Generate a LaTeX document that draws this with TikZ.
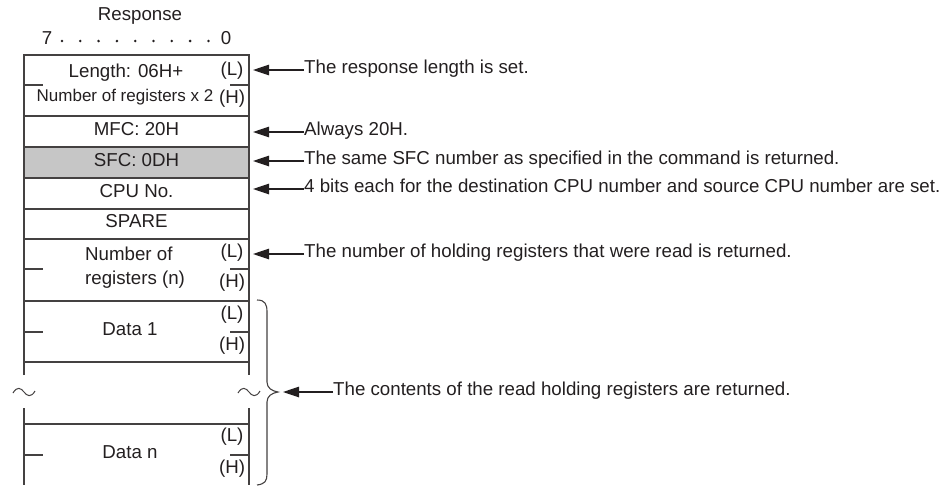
\documentclass[tikz,border=0pt]{standalone}
\usepackage{fontspec}
\setmainfont{Liberation Sans}
\usetikzlibrary{arrows.meta}
\definecolor{ink}{HTML}{231F20}
\definecolor{boxgray}{HTML}{C6C6C6}
\tikzset{
  boxline/.style={draw=ink!85, line width=1.3pt},
  lbl/.style={inner sep=0pt, text height=0.716em, text depth=0pt, text=ink, font=\fontsize{18.7}{21}\selectfont},
  smlbl/.style={lbl, font=\fontsize{17}{20}\selectfont},
  note/.style={lbl, anchor=west},
  arr/.style={draw=ink, line width=1.2pt, -{Triangle[length=16pt,width=10.5pt]}},
  bitdot/.style={fill=ink, draw=none}
}
\begin{document}
\begin{tikzpicture}[x=1pt,y=-1pt]
\useasboundingbox (0,0) rectangle (941,485);
% grey SFC row
\fill[boxgray] (24,147) rectangle (249,178);
% frame
\draw[boxline] (24,375) -- (24,55) -- (249,55) -- (249,375);
\draw[boxline] (24,408) -- (24,485);
\draw[boxline] (249,408) -- (249,485);
\foreach \yy in {116,147,178,209,239,301,362,424}
  \draw[boxline] (24,\yy) -- (249,\yy);
% byte ticks
\foreach \yy in {85,269,332,455}{
  \draw[boxline] (24,\yy) -- (43,\yy);
  \draw[boxline] (230,\yy) -- (249,\yy);
}
% break tildes
\draw[boxline, line width=1pt] (13,393) .. controls (17,386) and (21,388) .. (24,392) .. controls (27,396) and (31,398) .. (35,391);
\draw[boxline, line width=1pt] (238,393) .. controls (242,386) and (246,388) .. (249,392) .. controls (252,396) and (256,398) .. (260,391);
% brace
\draw[boxline, line width=1.1pt] (257,300) .. controls (265,300) and (267,304) .. (267,312) -- (267,382) .. controls (267,388) and (272,391) .. (278,392) .. controls (272,393) and (267,396) .. (267,402) -- (267,474) .. controls (267,481) and (265,484) .. (257,485);

% header
\node[lbl] (resp) at (140,17) {Response};
\node[lbl] (b7) at (47,41) {7};
\node[lbl] (b0) at (226,41) {0};
\foreach \k in {0,...,8}
  \fill[bitdot] ({62+18.3*\k},41) circle (1.4);

% row texts
\node[lbl] (len) at (126,74) {Length: 06H+};
\node[smlbl] (len2) at (125,98) {Number of registers x 2};
\node[lbl] (lenL) at (232,72) {(L)};
\node[lbl] (lenH) at (232,100) {(H)};
\node[lbl] (mfc) at (136.5,131.5) {MFC: 20H};
\node[lbl] (sfc) at (136.5,162.5) {SFC: 0DH};
\node[lbl] (cpu) at (136.5,193.5) {CPU No.};
\node[lbl] (spare) at (136.5,224) {SPARE};
\node[lbl, anchor=west] (nr1) at (85,257) {Number of};
\node[lbl, anchor=west] (nr2) at (85,281) {registers (n)};
\node[lbl] (nrL) at (232,254) {(L)};
\node[lbl] (nrH) at (232,284) {(H)};
\node[lbl] (d1) at (130,332) {Data 1};
\node[lbl] (d1L) at (232,316) {(L)};
\node[lbl] (d1H) at (232,347) {(H)};
\node[lbl] (dn) at (130,455) {Data n};
\node[lbl] (dnL) at (232,438) {(L)};
\node[lbl] (dnH) at (232,470) {(H)};

% annotations
\node[note] (n1) at (304,70) {The response length is set.};
\node[note] (n2) at (304,132) {Always 20H.};
\node[note] (n3) at (304,161) {The same SFC number as specified in the command is returned.};
\node[note] (n4) at (304,189) {4 bits each for the destination CPU number and source CPU number are set.};
\node[note] (n5) at (304,254) {The number of holding registers that were read is returned.};
\node[note] (n6) at (333,392) {The contents of the read holding registers are returned.};

\coordinate (t1) at (253,70);
\coordinate (t2) at (253,132);
\coordinate (t3) at (253,161);
\coordinate (t4) at (253,189);
\coordinate (t5) at (253,254);
\coordinate (t6) at (283,392);
\draw[arr] (n1.west) -- (t1);
\draw[arr] (n2.west) -- (t2);
\draw[arr] (n3.west) -- (t3);
\draw[arr] (n4.west) -- (t4);
\draw[arr] (n5.west) -- (t5);
\draw[arr] (n6.west) -- (t6);
\end{tikzpicture}
\end{document}
